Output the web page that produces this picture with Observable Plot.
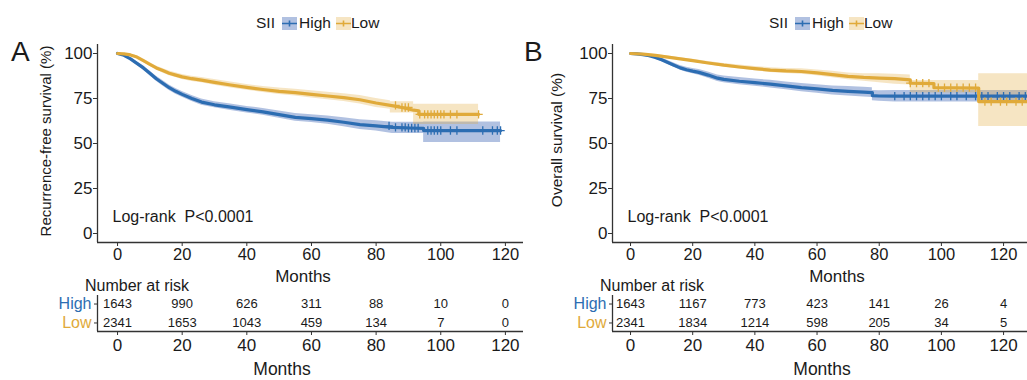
<!DOCTYPE html>
<html>
<head>
<meta charset="utf-8">
<script src="https://cdn.jsdelivr.net/npm/d3@7"></script>
<script src="https://cdn.jsdelivr.net/npm/@observablehq/plot@0.6"></script>
<style>
  html, body { margin: 0; padding: 0; background: white; }
  #root { position: relative; width: 1027px; height: 380px; overflow: hidden; background: white;
          font-family: 'Liberation Sans', Arial, Helvetica, sans-serif; color: #1a1a1a; }
  #root svg { position: absolute; }
  .lbl { position: absolute; white-space: nowrap; line-height: 1; transform: translate(-50%, -50%); }
  .lft { position: absolute; white-space: nowrap; line-height: 1; transform: translate(0, -50%); }
  .rot { position: absolute; white-space: nowrap; line-height: 1; transform: translate(-50%, -50%) rotate(-90deg); }
</style>
</head>
<body>
<div id="root"></div>
<script>
// ---------------- DATA ----------------
const groups = ["High", "Low"];
const groupColors = ["#2C6DB2", "#E0AA3A"];
const bandColors = ["#3C64B4", "#E1AA37"];
const xTicks = [0, 20, 40, 60, 80, 100, 120];
const yTicks = [0, 25, 50, 75, 100];

// Panel A: recurrence-free survival (repeated month = vertical drop)
const monthsA_high = [0,2,4,6,8,10,12,14,16,18,20,23,26,30,35,40,45,50,55,60,65,70,75,80,85,90,94.7,94.7,118.5];
const survA_high   = [100,99,97,94.5,92,89,86,83.5,81,79,77.3,75,73,71.5,70.2,68.8,67.6,66,64.5,63.8,63,61.8,60.5,59.8,59,58.6,58.4,57.2,57.2];
const lowerA_high  = [100,98.4,96.2,93.5,90.8,87.7,84.6,82,79.5,77.4,75.7,73.4,71.3,69.8,68.4,67,65.7,64,62.4,61.6,60.7,59.3,57.8,57,55.5,55.5,55.5,50.5,50.5];
const upperA_high  = [100,99.5,97.8,95.4,93.2,90.3,87.4,85,82.5,80.6,78.9,76.6,74.7,73.2,72,70.6,69.5,68,66.6,66,65.3,64.3,63.2,62.6,61.8,61.8,61.8,62,62];
const censorA_high = [84,86,88,89,90,91,92,93,96,97,98,99,100,103,105,113,116,117.5,118.5];

const monthsA_low = [0,2,4,6,8,10,12,14,16,18,20,23,26,30,35,40,45,50,55,60,65,70,75,80,84.4,84.4,88,91.6,91.6,93.2,93.2,111.7];
const survA_low   = [100,99.8,99.2,98,96,94,92,90.5,89,88,87,86,85.2,84,82.5,81.2,80,79,78.3,77.3,76.4,75.5,74.3,72.5,71.2,71.2,70,68.5,68.5,68.2,66.2,66.2];
const lowerA_low  = [100,99.4,98.6,97.2,95,92.9,90.8,89.2,87.7,86.6,85.6,84.5,83.7,82.4,80.9,79.6,78.3,77.2,76.4,75.3,74.3,73.3,71.9,70,69,67,67,67,60.5,60.5,60.5,60.5];
const upperA_low  = [100,100,99.7,98.7,96.9,95,93.1,91.7,90.3,89.3,88.3,87.4,86.7,85.5,84.1,82.8,81.7,80.8,80.2,79.3,78.5,77.7,76.7,75,73.8,73.2,73.2,73.2,71.8,71.8,71.8,71.8];
const censorA_low = [86,88,89,90,93.5,95,96,97,98,99,100,101,103,105,111.7];

// Panel B: overall survival
const monthsB_high = [0,2,4,6,8,10,12,14,16,18,20,22,25,28,30,35,40,45,50,55,60,65,70,75,77.8,77.8,80,85,127.7];
const survB_high   = [100,99.8,99.4,98.8,97.8,96.5,95,93.5,92,91,90.2,89.5,88,86.3,85.6,84.6,83.8,83,82,81,80.3,79.5,79,78.5,78.3,76.6,76.4,76.3,76.3];
const lowerB_high  = [100,99.6,99,98.2,97,95.5,93.9,92.3,90.7,89.6,88.7,87.9,86.3,84.5,83.7,82.6,81.8,80.9,79.8,78.7,77.9,77,76.4,75.8,75.6,73.8,73.5,73,73];
const upperB_high  = [100,100,99.8,99.4,98.6,97.5,96.1,94.7,93.3,92.4,91.7,91.1,89.7,88.1,87.5,86.6,85.8,85.1,84.2,83.3,82.7,82,81.6,81.2,81,79.4,79.3,79.5,79.5];
const censorB_high = [85,88,90,92,94,96,98,100,103,105,108,111,113,115,118,120,122,125,127];

const monthsB_low = [0,4,8,12,16,20,25,30,35,40,45,50,55,60,65,70,75,80,85,90,90,97.6,97.6,112,112,127.7];
const survB_low   = [100,99.7,99,98,97,96,94.7,93.5,92.5,91.6,90.8,90.3,90,89.2,88.3,87.3,86.7,86.3,86,85.3,83.5,83.3,81,80.8,73.3,73.3];
const lowerB_low  = [100,99.4,98.6,97.4,96.3,95.2,93.8,92.5,91.4,90.4,89.5,88.9,88.5,87.6,86.5,85.4,84.6,83.8,82.9,82.5,78,78,78,78,59.4,59.4];
const upperB_low  = [100,100,99.4,98.6,97.7,96.8,95.6,94.5,93.6,92.8,92.1,91.7,91.5,90.8,90.1,89.2,88.8,88.8,88.5,88,85,85,85,85,88.7,88.7];
const censorB_low = [90,92,94,96,99,101,103,105,107,109,111,114,116,119,121,124,126];

// Number at risk tables
const riskMonths = [0, 20, 40, 60, 80, 100, 120];
const riskA_high = [1643, 990, 626, 311, 88, 10, 0];
const riskA_low  = [2341, 1653, 1043, 459, 134, 7, 0];
const riskB_high = [1643, 1167, 773, 423, 141, 26, 4];
const riskB_low  = [2341, 1834, 1214, 598, 205, 34, 5];

// ---------------- DRAWING ----------------
const FONT = "'Liberation Sans', Arial, Helvetica, sans-serif";
const AXIS = "#333";
const root = document.getElementById("root");

function stepAt(times, surv, t) {
  let v = surv[0];
  for (let i = 0; i < times.length; i++) if (times[i] <= t) v = surv[i];
  return v;
}

function kmPlot(cfg) {
  const marks = [];
  cfg.series.forEach((s, gi) => {
    const rows = s.t.map((t, i) => ({t, lo: s.lo[i], hi: s.hi[i]}));
    marks.push(Plot.areaY(rows, {x: "t", y1: "lo", y2: "hi", curve: "linear",
      fill: bandColors[gi], fillOpacity: gi === 0 ? 0.4 : 0.3}));
  });
  cfg.series.forEach((s, gi) => {
    const rows = s.t.map((t, i) => ({t, s: s.surv[i]}));
    marks.push(Plot.line(rows, {x: "t", y: "s", curve: "linear", stroke: groupColors[gi], strokeWidth: 3.2}));
    const cens = s.c.map(t => ({t, s: stepAt(s.t, s.surv, t)}));
    marks.push(Plot.dot(cens, {x: "t", y: "s", symbol: "plus", r: 2.8, stroke: groupColors[gi], strokeWidth: 1.3}));
  });
  marks.push(Plot.ruleX([cfg.xDomain[0]], {stroke: AXIS, strokeWidth: 1.3}));
  marks.push(Plot.ruleY([cfg.yDomain[0]], {stroke: AXIS, strokeWidth: 1.3}));
  marks.push(Plot.axisX({ticks: xTicks, tickSize: 4, tickPadding: 2, fontSize: 16.5, label: null, stroke: AXIS}));
  marks.push(Plot.axisY({ticks: yTicks, tickSize: 4, tickPadding: 1, fontSize: 17, label: null, stroke: AXIS}));
  marks.push(Plot.text([cfg.pText], {frameAnchor: "bottom-left", dx: 15, dy: -26, textAnchor: "start",
    lineAnchor: "middle", fontSize: 16, fill: "#1a1a1a"}));
  const svg = Plot.plot({
    width: cfg.width, height: 290,
    marginLeft: cfg.marginLeft, marginRight: cfg.marginRight, marginTop: 44, marginBottom: 48,
    x: {domain: cfg.xDomain},
    y: {domain: cfg.yDomain},
    style: {background: "transparent", fontFamily: FONT, color: "#1a1a1a", overflow: "visible"},
    marks
  });
  svg.style.left = cfg.left + "px";
  svg.style.top = "0px";
  root.appendChild(svg);
}

function riskPlot(cfg) {
  const rows = [];
  riskMonths.forEach((t, i) => {
    rows.push({t, row: 0, n: cfg.high[i]});
    rows.push({t, row: 1, n: cfg.low[i]});
  });
  const svg = Plot.plot({
    width: cfg.width, height: 110,
    marginLeft: cfg.marginLeft, marginRight: cfg.marginRight, marginTop: 25, marginBottom: 49,
    x: {domain: cfg.xDomain},
    y: {domain: [-0.45, 1.45], reverse: true},
    style: {background: "transparent", fontFamily: FONT, color: "#1a1a1a", overflow: "visible"},
    marks: [
      Plot.ruleX([cfg.xDomain[0]], {stroke: AXIS, strokeWidth: 1.3}),
      Plot.ruleY([1.45], {stroke: AXIS, strokeWidth: 1.3}),
      Plot.axisX({ticks: xTicks, tickSize: 4, tickPadding: 3, fontSize: 17, label: null, stroke: AXIS}),
      Plot.axisY({ticks: [0, 1], tickSize: 3, tickFormat: () => "", label: null, stroke: AXIS}),
      Plot.text(rows, {x: "t", y: "row", text: d => String(d.n), fontSize: 13, fill: "#1a1a1a"}),
      Plot.text([groups[0]], {y: () => 0, frameAnchor: "left", textAnchor: "end", dx: -6, fontSize: 16, fill: groupColors[0]}),
      Plot.text([groups[1]], {y: () => 1, frameAnchor: "left", textAnchor: "end", dx: -6, fontSize: 16, fill: groupColors[1]})
    ]
  });
  svg.style.left = cfg.left + "px";
  svg.style.top = "270px";
  root.appendChild(svg);
}

const xDomainA = [-6.2, 125.6];
const xDomainB = [-5.8, 127.7];

kmPlot({left: 0, width: 523, marginLeft: 97, marginRight: 0, xDomain: xDomainA, yDomain: [-5, 105],
  pText: "Log-rank  P<0.0001",
  series: [
    {t: monthsA_high, surv: survA_high, lo: lowerA_high, hi: upperA_high, c: censorA_high},
    {t: monthsA_low, surv: survA_low, lo: lowerA_low, hi: upperA_low, c: censorA_low}
  ]});
kmPlot({left: 512, width: 515, marginLeft: 100, marginRight: 0, xDomain: xDomainB, yDomain: [-5, 105],
  pText: "Log-rank  P<0.0001",
  series: [
    {t: monthsB_high, surv: survB_high, lo: lowerB_high, hi: upperB_high, c: censorB_high},
    {t: monthsB_low, surv: survB_low, lo: lowerB_low, hi: upperB_low, c: censorB_low}
  ]});
riskPlot({left: 0, width: 523, marginLeft: 97, marginRight: 0, xDomain: xDomainA, high: riskA_high, low: riskA_low});
riskPlot({left: 512, width: 515, marginLeft: 100, marginRight: 0, xDomain: xDomainB, high: riskB_high, low: riskB_low});

// ---------------- TEXT & LEGENDS ----------------
function addText(cls, text, x, y, size, extra) {
  const d = document.createElement("div");
  d.className = cls;
  d.textContent = text;
  d.style.left = x + "px";
  d.style.top = y + "px";
  d.style.fontSize = size + "px";
  if (extra) Object.assign(d.style, extra);
  root.appendChild(d);
}

function addLegend(offset) {
  addText("lft", "SII", 256 + offset, 23, 15.5);
  const ns = "http://www.w3.org/2000/svg";
  [[282, 0], [336, 1]].forEach(([x, gi]) => {
    const svg = document.createElementNS(ns, "svg");
    svg.setAttribute("width", 15); svg.setAttribute("height", 13);
    svg.style.left = (x + offset) + "px"; svg.style.top = "17px";
    const r = document.createElementNS(ns, "rect");
    r.setAttribute("x", 0); r.setAttribute("y", 0); r.setAttribute("width", 15); r.setAttribute("height", 13);
    r.setAttribute("fill", bandColors[gi]); r.setAttribute("fill-opacity", gi === 0 ? 0.4 : 0.3);
    svg.appendChild(r);
    const l = document.createElementNS(ns, "path");
    l.setAttribute("d", "M0,6.5H15M7.5,3.5V9.5");
    l.setAttribute("stroke", groupColors[gi]); l.setAttribute("stroke-width", 1.6); l.setAttribute("fill", "none");
    svg.appendChild(l);
    root.appendChild(svg);
  });
  addText("lft", "High", 299 + offset, 23, 15.5);
  addText("lft", "Low", 351 + offset, 23, 15.5);
}
addLegend(0);
addLegend(513);

addText("lft", "A", 11, 52, 28);
addText("lft", "B", 524, 52, 28);

addText("rot", "Recurrence-free survival (%)", 45, 141, 15);
addText("rot", "Overall survival (%)", 557, 140, 15.5);

addText("lbl", "Months", 303, 276, 17);
addText("lbl", "Months", 837, 276, 17);
addText("lft", "Number at risk", 85, 286, 16);
addText("lft", "Number at risk", 600, 286, 16);
addText("lbl", "Months", 282, 370, 17.5);
addText("lbl", "Months", 822, 370, 17.5);
</script>
</body>
</html>
